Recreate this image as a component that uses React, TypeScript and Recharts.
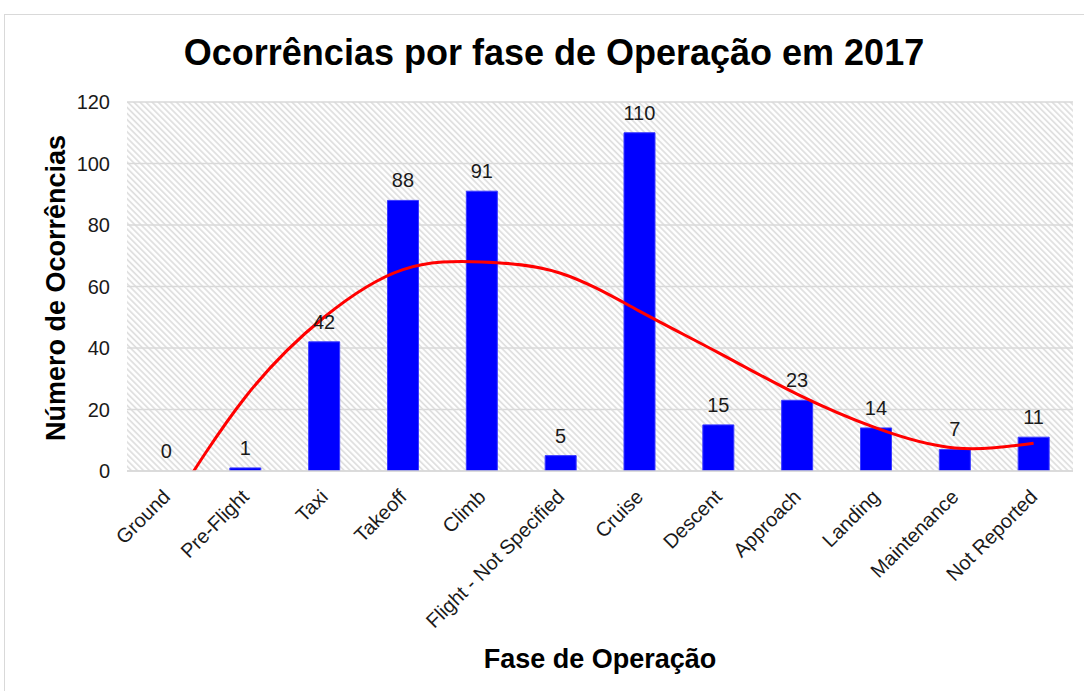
import React from "react";
import { ComposedChart, Bar, Line, XAxis, YAxis, CartesianGrid, LabelList } from "recharts";

// fases de operação (eixo X)
const fases = [
  "Ground", "Pre-Flight", "Taxi", "Takeoff", "Climb", "Flight - Not Specified",
  "Cruise", "Descent", "Approach", "Landing", "Maintenance", "Not Reported",
];

// número de ocorrências por fase
const ocorrencias = [0, 1, 42, 88, 91, 5, 110, 15, 23, 14, 7, 11];

// linha de tendência (em cada categoria)
const tendencia = [-14, 24, 50, 65.5, 68, 64.3, 52, 38.5, 25, 14, 7.5, 9];

const yTicks = [0, 20, 40, 60, 80, 100, 120];

const chartData = fases.map((fase, i) => ({
  fase,
  valor: ocorrencias[i],
  trend: tendencia[i],
}));

const FONT = "'Liberation Sans', Arial, sans-serif";

const RotatedTick = (props: any) => {
  const { x, y, payload } = props;
  const ax = x - 5;
  const ay = y + 9;
  return (
    <text
      x={ax}
      y={ay}
      dy="0.71em"
      textAnchor="end"
      fontSize={20}
      fontFamily={FONT}
      fill="#1a1a1a"
      transform={`rotate(-45, ${ax}, ${ay})`}
    >
      {payload.value}
    </text>
  );
};

export default function App() {
  return (
    <div style={{ position: "absolute", left: 0, top: 0, width: 1084, height: 691, overflow: "hidden", background: "#fff" }}>
      <div
        style={{
          position: "absolute", left: 4, top: 14, width: 1100, height: 700,
          border: "1.5px solid #d9d9d9", boxSizing: "border-box",
        }}
      />
      <div
        style={{
          position: "absolute", left: 0, top: 35, width: 1108, textAlign: "center",
          fontFamily: FONT, fontWeight: "bold", fontSize: 36, lineHeight: "36px", color: "#000",
        }}
      >
        Ocorrências por fase de Operação em 2017
      </div>
      <div
        style={{
          position: "absolute", left: 56 - 200, top: 288 - 14, width: 400, height: 28,
          transform: "rotate(-90deg)", textAlign: "center",
          fontFamily: FONT, fontWeight: "bold", fontSize: 27, lineHeight: "28px", color: "#000",
        }}
      >
        Número de Ocorrências
      </div>
      <div
        style={{
          position: "absolute", left: 400, top: 645, width: 400, textAlign: "center",
          fontFamily: FONT, fontWeight: "bold", fontSize: 27, lineHeight: "28px", color: "#000",
        }}
      >
        Fase de Operação
      </div>
      <div style={{ position: "absolute", left: 0, top: 0 }}>
        <ComposedChart
          width={1084}
          height={691}
          data={chartData}
          margin={{ top: 102, right: 11, bottom: 80, left: 67 }}
        >
          <defs>
            <pattern id="hatch" patternUnits="userSpaceOnUse" width="4.3" height="4.3" patternTransform="rotate(-45)">
              <rect width="4.3" height="4.3" fill="#ffffff" />
              <line x1="1" y1="0" x2="1" y2="4.3" stroke="#dedede" strokeWidth="1.7" />
            </pattern>
          </defs>
          <CartesianGrid vertical={false} stroke="#d9d9d9" strokeWidth={1.5} fill="url(#hatch)" />
          <XAxis
            dataKey="fase"
            interval={0}
            height={140}
            tickLine={false}
            axisLine={{ stroke: "#d9d9d9", strokeWidth: 1.5 }}
            tick={<RotatedTick />}
          />
          <YAxis
            width={60}
            domain={[0, 120]}
            ticks={yTicks}
            allowDataOverflow
            tickLine={false}
            axisLine={false}
            tickSize={0}
            tickMargin={17}
            tick={{ fontSize: 20, fontFamily: FONT, fill: "#1a1a1a" }}
          />
          <Bar dataKey="valor" fill="#0000ff" stroke="#3a3aff" strokeWidth={1} barSize={31} isAnimationActive={false} />
          <Line
            type="natural"
            dataKey="trend"
            stroke="#ff0000"
            strokeWidth={3}
            dot={false}
            activeDot={false}
            isAnimationActive={false}
          />
          {/* rótulos de dados (inclui o 0 de Ground) */}
          <Line
            dataKey="valor"
            stroke="none"
            dot={false}
            activeDot={false}
            legendType="none"
            isAnimationActive={false}
          >
            <LabelList dataKey="valor" position="top" offset={13} fontSize={20} fontFamily={FONT} fill="#1a1a1a" />
          </Line>
        </ComposedChart>
      </div>
    </div>
  );
}
